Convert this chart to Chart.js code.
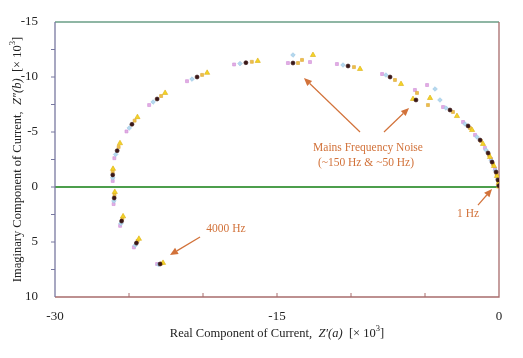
<!DOCTYPE html>
<html><head><meta charset="utf-8">
<script src="https://cdn.jsdelivr.net/npm/chart.js@4"></script>
<style>html,body{margin:0;padding:0;background:#fff}#wrap{width:523px;height:358px;position:relative}</style>
</head><body><div id="wrap"><canvas id="c"></canvas></div>
<script>
// ---- data (real Z'(a), imaginary Z''(b), ×10^3) ----
const xTickLabels = [-30, -15, 0];
const yTickLabels = [-15, -10, -5, 0, 5, 10];
const seriesPink = [[-23.1,7.0],[-24.67,5.49],[-25.6,3.53],[-26.04,1.55],[-26.1,-0.55],[-25.99,-2.62],[-25.17,-5.05],[-23.64,-7.45],[-21.08,-9.62],[-17.9,-11.14],[-14.26,-11.27],[-12.77,-11.36],[-10.95,-11.18],[-7.9,-10.27],[-4.86,-9.27],[-5.68,-8.82],[-3.78,-7.27],[-2.43,-5.91],[-1.62,-4.73],[-0.95,-3.55],[-0.54,-2.55],[-0.27,-1.64],[-0.1,-0.82],[-0.03,-0.25]];
const seriesBlue = [[-23.0,7.05],[-24.58,5.3],[-25.55,3.32],[-26.02,1.27],[-26.1,-0.83],[-25.9,-2.96],[-24.98,-5.37],[-23.37,-7.73],[-20.74,-9.81],[-17.5,-11.22],[-13.92,-12.0],[-10.54,-11.09],[-7.64,-10.18],[-4.32,-8.91],[-3.99,-7.91],[-3.58,-7.18],[-2.3,-5.73],[-1.49,-4.55],[-0.88,-3.36],[-0.51,-2.41],[-0.24,-1.5],[-0.08,-0.73],[-0.02,-0.18]];
const seriesBlack = [[-22.9,7.0],[-24.5,5.1],[-25.5,3.1],[-26.0,1.0],[-26.1,-1.1],[-25.8,-3.3],[-24.8,-5.7],[-23.1,-8.0],[-20.4,-10.0],[-17.1,-11.3],[-13.92,-11.27],[-10.2,-11.0],[-7.36,-10.0],[-5.61,-7.91],[-3.31,-7.0],[-2.09,-5.55],[-1.28,-4.27],[-0.74,-3.09],[-0.47,-2.27],[-0.2,-1.36],[-0.07,-0.64],[-0.01,-0.12]];
const seriesOrange = [[-22.8,6.95],[-24.42,4.9],[-25.45,2.88],[-25.98,0.73],[-26.1,-1.37],[-25.7,-3.64],[-24.62,-6.03],[-22.83,-8.27],[-20.06,-10.19],[-16.7,-11.38],[-13.58,-11.27],[-13.31,-11.55],[-9.8,-10.9],[-7.03,-9.73],[-5.54,-8.55],[-4.8,-7.45],[-3.11,-6.82],[-1.96,-5.36],[-1.22,-4.18],[-0.68,-2.91],[-0.41,-2.09],[-0.17,-1.18],[-0.04,-0.5],[-0.01,-0.05]];
const seriesYellow = [[-22.7,6.9],[-24.33,4.71],[-25.4,2.67],[-25.96,0.45],[-26.08,-1.65],[-25.61,-3.98],[-24.43,-6.35],[-22.56,-8.55],[-19.72,-10.38],[-16.3,-11.46],[-12.57,-12.0],[-9.39,-10.73],[-6.62,-9.36],[-5.81,-8.0],[-4.66,-8.09],[-2.84,-6.45],[-1.82,-5.18],[-1.08,-3.91],[-0.61,-2.73],[-0.34,-1.91],[-0.14,-1.0],[-0.02,-0.36],[0,-0.05]];
// annotations: [fromX, fromY, toX, toY] in data units
const arrows = [[-9.39,-5.0,-13.18,-9.91],[-7.77,-5.0,-6.08,-7.18],[-20.2,4.55,-22.23,6.18],[-1.42,1.64,-0.47,0.18]];
const notes = [["Mains Frequency Noise",-8.85,-3.55],["(~150 Hz & ~50 Hz)",-8.99,-2.18],["4000 Hz",-18.45,3.82],["1 Hz",-2.09,2.45]];

const toPts = a => a.map(p => ({x:p[0], y:p[1]}));
const SERIF = '"Liberation Serif","Times New Roman",serif';
const ANN = '#d2723a';

const decor = {
  id:'decor',
  beforeDatasetsDraw(chart){
    const {ctx, chartArea:a, scales:{x,y}} = chart;
    ctx.save();
    const y0 = y.getPixelForValue(0);
    ctx.strokeStyle='#4c9e4c'; ctx.lineWidth=2;
    ctx.beginPath(); ctx.moveTo(a.left,y0); ctx.lineTo(a.right,y0); ctx.stroke();
    ctx.lineWidth=1.3;
    ctx.strokeStyle='#6a9e86'; ctx.beginPath(); ctx.moveTo(a.left,a.top); ctx.lineTo(a.right,a.top); ctx.stroke();
    ctx.strokeStyle='#a86c6c'; ctx.beginPath(); ctx.moveTo(a.right,a.top); ctx.lineTo(a.right,a.bottom); ctx.lineTo(a.left,a.bottom); ctx.stroke();
    ctx.strokeStyle='#7878a0'; ctx.beginPath(); ctx.moveTo(a.left,a.top); ctx.lineTo(a.left,a.bottom); ctx.stroke();
    ctx.lineWidth=1;
    ctx.strokeStyle='#a86c6c';
    for(let v=-25; v<0; v+=5){ const px=x.getPixelForValue(v); ctx.beginPath(); ctx.moveTo(px,a.bottom); ctx.lineTo(px,a.bottom-4); ctx.stroke(); }
    ctx.strokeStyle='#7878a0';
    for(let v=-12.5; v<10; v+=2.5){ const py=y.getPixelForValue(v); ctx.beginPath(); ctx.moveTo(a.left-4,py); ctx.lineTo(a.left,py); ctx.stroke(); }
    ctx.restore();
  },
  afterDatasetsDraw(chart){
    const {ctx, chartArea:a, scales:{x,y}} = chart;
    ctx.save();
    ctx.strokeStyle=ANN; ctx.fillStyle=ANN; ctx.lineWidth=1.2;
    arrows.forEach(r=>{
      const x1=x.getPixelForValue(r[0]), y1=y.getPixelForValue(r[1]);
      const x2=x.getPixelForValue(r[2]), y2=y.getPixelForValue(r[3]);
      const ang=Math.atan2(y2-y1,x2-x1), L=8, W=3.5;
      const bx=x2-L*Math.cos(ang), by=y2-L*Math.sin(ang);
      ctx.beginPath(); ctx.moveTo(x1,y1); ctx.lineTo(bx,by); ctx.stroke();
      ctx.beginPath(); ctx.moveTo(x2,y2);
      ctx.lineTo(bx+W*Math.sin(ang), by-W*Math.cos(ang));
      ctx.lineTo(bx-W*Math.sin(ang), by+W*Math.cos(ang));
      ctx.closePath(); ctx.fill();
    });
    ctx.font='11.5px '+SERIF; ctx.textAlign='center'; ctx.textBaseline='middle';
    notes.forEach(n=>ctx.fillText(n[0], x.getPixelForValue(n[1]), y.getPixelForValue(n[2])));
    ctx.fillStyle='#222';
    const drawRich = (parts, cx, cy) => {
      let w=0;
      parts.forEach(p=>{ ctx.font=p[1]; w+=ctx.measureText(p[0]).width; });
      let cur=cx-w/2;
      ctx.textAlign='left';
      parts.forEach(p=>{ ctx.font=p[1]; const dy=p[2]||0; ctx.fillText(p[0],cur,cy+dy); cur+=ctx.measureText(p[0]).width; });
    };
    const N='12.5px '+SERIF, I='italic 12.5px '+SERIF, S='8.5px '+SERIF;
    drawRich([["Real Component of Current,  ",N],["Z′(a)",I],["  [× 10",N],["3",S,-5],["]",N]], (a.left+a.right)/2, 334);
    ctx.save();
    ctx.translate(18,(a.top+a.bottom)/2);
    ctx.rotate(-Math.PI/2);
    drawRich([["Imaginary Component of Current,  ",N],["Z″(b)",I],["  [× 10",N],["3",S,-5],["]",N]], 0, 0);
    ctx.restore();
    ctx.restore();
  }
};

const mk = (label, pts, style, bg, border, r) => ({
  label, data: toPts(pts), pointStyle: style, backgroundColor: bg, borderColor: border,
  pointRadius: r, pointBorderWidth: 0.6, showLine: false
});

new Chart(document.getElementById('c'), {
  type:'scatter',
  data:{ datasets:[
    mk('Run 5', seriesBlack, 'circle', '#3a1818', '#3a1818', 2.0),
    mk('Run 4', seriesYellow, 'triangle', '#f4d426', '#dcae14', 3.0),
    mk('Run 3', seriesOrange, 'rect', '#eec04a', '#dba638', 2.1),
    mk('Run 2', seriesBlue, 'rectRot', '#b4d8ee', '#98c4e2', 2.3),
    mk('Run 1', seriesPink, 'rect', '#e2aee4', '#d08ed6', 2.1)
  ]},
  plugins:[decor],
  options:{
    responsive:true, maintainAspectRatio:false, animation:false,
    layout:{padding:{top:22,right:24,left:0,bottom:0}},
    plugins:{legend:{display:false}, tooltip:{enabled:false}},
    scales:{
      x:{ type:'linear', min:-30, max:0, clip:false,
        grid:{display:false}, border:{display:false},
        afterBuildTicks: s => { s.ticks = xTickLabels.map(v=>({value:v})); },
        afterFit: s => { s.height = 61; },
        ticks:{ color:'#222', padding:4, font:{family:SERIF, size:13}, maxRotation:0, autoSkip:false,
          callback: v => String(v) }
      },
      y:{ type:'linear', min:-15, max:10, reverse:true,
        grid:{display:false}, border:{display:false},
        afterBuildTicks: s => { s.ticks = yTickLabels.map(v=>({value:v})); },
        afterFit: s => { s.width = 55; },
        ticks:{ color:'#222', padding:9, font:{family:SERIF, size:13}, autoSkip:false,
          callback: v => String(v) }
      }
    }
  }
});
</script></body></html>
